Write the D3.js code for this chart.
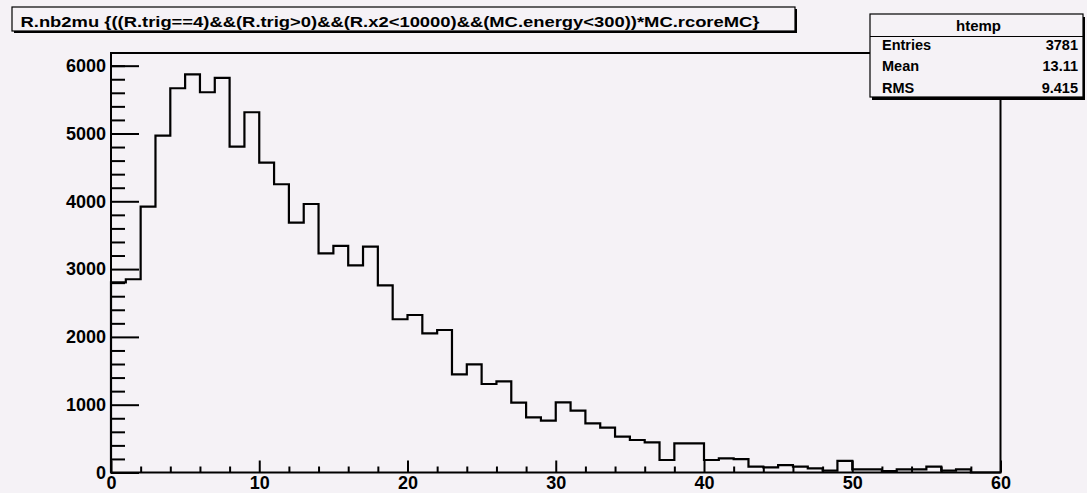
<!DOCTYPE html>
<html>
<head>
<meta charset="utf-8">
<script src="https://cdn.jsdelivr.net/npm/d3@7"></script>
<style>
  html, body { margin: 0; padding: 0; background: #f5f2f6; }
  svg { display: block; }
  text { font-family: "Liberation Sans", Arial, Helvetica, sans-serif; font-weight: bold; fill: #000; }
</style>
</head>
<body>
<svg id="chart" width="1087" height="493"></svg>
<script>
// ---- data ----
const titleText = "R.nb2mu {((R.trig==4)&&(R.trig>0)&&(R.x2<10000)&&(MC.energy<300))*MC.rcoreMC}";
const histName = "htemp";
const statLabels = ["Entries", "Mean", "RMS"];
const statValues = ["3781", "13.11", "9.415"];
const xRange = [0, 60];
const binCounts = [
  2805, 2850, 3920, 4967, 5667, 5873, 5608, 5819, 4805, 5313,
  4569, 4251, 3684, 3960, 3233, 3341, 3056, 3330, 2761, 2260,
  2323, 2053, 2102, 1448, 1596, 1305, 1345, 1030, 814, 764,
  1035, 912, 726, 661, 528, 479, 445, 184, 431, 431,
  184, 209, 197, 86, 76, 110, 86, 61, 27, 170,
  47, 47, 20, 47, 47, 86, 27, 47, 0, 0
];
const xMajorTicks = [0, 10, 20, 30, 40, 50, 60];
const xMinorTicks = [2, 4, 6, 8, 12, 14, 16, 18, 22, 24, 26, 28, 32, 34, 36, 38, 42, 44, 46, 48, 52, 54, 56, 58];
const yMajorTicks = [0, 1000, 2000, 3000, 4000, 5000, 6000];
const yMinorTicks = [200, 400, 600, 800, 1200, 1400, 1600, 1800, 2200, 2400, 2600, 2800,
  3200, 3400, 3600, 3800, 4200, 4400, 4600, 4800, 5200, 5400, 5600, 5800, 6000];
const yTop = 6187;

// ---- layout ----
const svg = d3.select("#chart");
const bg = "#f5f2f6";
const L = 111, R = 1000.5, T = 53, B = 472.5;

const x = d3.scaleLinear().domain(xRange).range([L, R]);
const y = d3.scaleLinear().domain([0, yTop]).range([B, T]);
const binW = (xRange[1] - xRange[0]) / binCounts.length;

// histogram outline
const pts = [[x(xRange[0]), y(0)]];
binCounts.forEach((c, i) => {
  const x0 = xRange[0] + i * binW, x1 = x0 + binW;
  pts.push([x(x0), y(c)]);
  pts.push([x(x1), y(c)]);
});
pts.push([x(xRange[1]), y(0)]);
svg.append("path")
  .attr("d", d3.line()(pts))
  .attr("fill", "none")
  .attr("stroke", "#000")
  .attr("stroke-width", 2.2)
  .attr("stroke-linejoin", "miter");

// axes
const yMajor = svg.append("g").attr("transform", `translate(${L},0)`)
  .call(d3.axisLeft(y).tickValues(yMajorTicks).tickSize(-28).tickPadding(5).tickFormat(d3.format("d")));
const yMinor = svg.append("g").attr("transform", `translate(${L},0)`)
  .call(d3.axisLeft(y).tickValues(yMinorTicks).tickSize(-14).tickFormat(""));
const xMajor = svg.append("g").attr("transform", `translate(0,${B})`)
  .call(d3.axisBottom(x).tickValues(xMajorTicks).tickSize(-12).tickPadding(4).tickFormat(d3.format("d")));
const xMinor = svg.append("g").attr("transform", `translate(0,${B})`)
  .call(d3.axisBottom(x).tickValues(xMinorTicks).tickSize(-6).tickFormat(""));
[yMajor, yMinor, xMajor, xMinor].forEach(g => {
  g.select(".domain").remove();
  g.selectAll(".tick line").attr("stroke", "#000").attr("stroke-width", 2);
  g.selectAll(".tick text").attr("fill", "#000")
    .style("font-family", '"Liberation Sans", Arial, sans-serif')
    .style("font-weight", "bold").style("font-size", "18px");
});

// frame
svg.append("rect")
  .attr("x", L).attr("y", T).attr("width", R - L).attr("height", B - T)
  .attr("fill", "none").attr("stroke", "#000").attr("stroke-width", 2);

// title box
svg.append("rect").attr("x", 14).attr("y", 9).attr("width", 783).attr("height", 24).attr("fill", "#000");
svg.append("rect").attr("x", 12).attr("y", 7).attr("width", 783).attr("height", 24)
  .attr("fill", bg).attr("stroke", "#000").attr("stroke-width", 1.2);
svg.append("text").attr("x", 20.5).attr("y", 27)
  .attr("textLength", 739).attr("lengthAdjust", "spacingAndGlyphs")
  .style("font-size", "15px").text(titleText);

// stats box
const sx = 870, sy = 14, sw = 213, sh = 83;
svg.append("rect").attr("x", sx + 2).attr("y", sy + 3).attr("width", sw).attr("height", sh).attr("fill", "#000");
svg.append("rect").attr("x", sx).attr("y", sy).attr("width", sw).attr("height", sh)
  .attr("fill", bg).attr("stroke", "#000").attr("stroke-width", 1.2);
svg.append("line").attr("x1", sx).attr("x2", sx + sw).attr("y1", 36.5).attr("y2", 36.5)
  .attr("stroke", "#000").attr("stroke-width", 1.2);
svg.append("text").attr("x", sx + sw / 2 + 2).attr("y", 30.5).attr("text-anchor", "middle")
  .style("font-size", "15px").text(histName);
const rowY = [49.5, 71, 92.5];
statLabels.forEach((lab, i) => {
  svg.append("text").attr("x", 882).attr("y", rowY[i]).style("font-size", "14.5px").text(lab);
  svg.append("text").attr("x", 1078).attr("y", rowY[i]).attr("text-anchor", "end")
    .style("font-size", "14.5px").text(statValues[i]);
});
</script>
</body>
</html>
